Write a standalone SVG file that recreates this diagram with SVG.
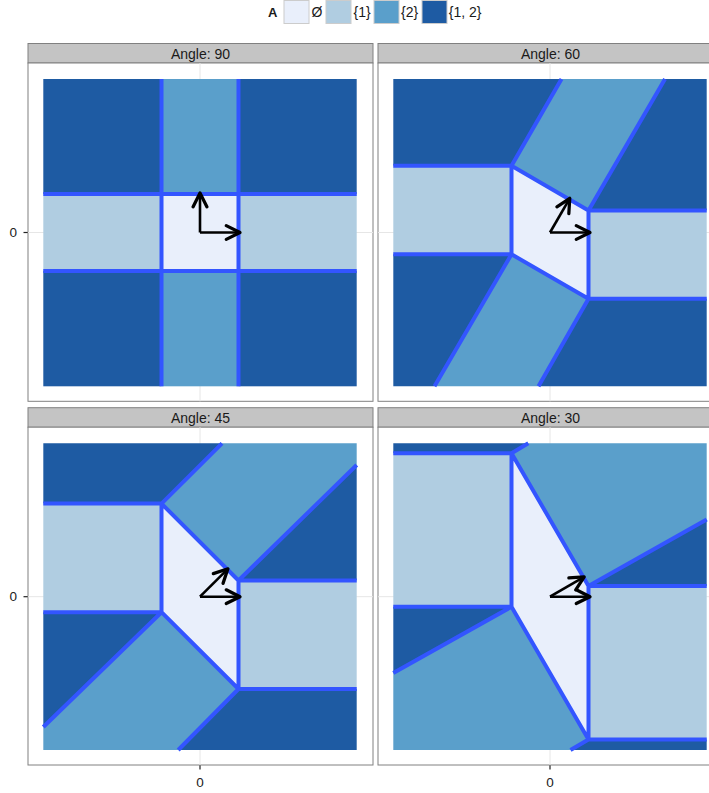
<svg xmlns="http://www.w3.org/2000/svg" width="709" height="793" viewBox="0 0 709 793">
<defs>
<style>
text{font-family:"Liberation Sans",Arial,sans-serif;fill:#1a1a1a}
.strip{fill:#C4C4C4;stroke:#808080;stroke-width:1}
.body{fill:#fff;stroke:#808080;stroke-width:1}
.grid{stroke:#E6E6E6;stroke-width:1;fill:none}
.tick{stroke:#222;stroke-width:1.2}
.e{fill:#E9EFFB}
.s1{fill:#B0CDE1}
.s2{fill:#5A9FCB}
.s12{fill:#1E5BA3}
.bd{fill:none;stroke:#3355FF;stroke-width:4;stroke-linejoin:round}
.vec{fill:none;stroke:#000;stroke-width:2.6;marker-end:url(#ah)}
.st{font-size:14px;text-anchor:middle}
.ax{font-size:13.5px;fill:#222}
.key{stroke:#CCCCCC;stroke-width:1}
.lg{font-size:14px}
</style>
<marker id="ah" markerUnits="userSpaceOnUse" markerWidth="20" markerHeight="20" viewBox="-14 -8 16 16" refX="0" refY="0" orient="auto">
<path d="M-11,-5.5 L0,0 L-11,5.5" fill="none" stroke="#000" stroke-width="2.6" stroke-linecap="round" stroke-linejoin="round"/>
</marker>
</defs>

<g id="legend">
<text x="277.5" y="16.5" style="font-size:13px;font-weight:bold;text-anchor:end">A</text>
<rect class="key e" x="284" y="0.5" width="25" height="23"/>
<text class="lg" x="311.5" y="16.5">Ø</text>
<rect class="key s1" x="326" y="0.5" width="25" height="23"/>
<text class="lg" x="353.5" y="16.5">{1}</text>
<rect class="key s2" x="374" y="0.5" width="25" height="23"/>
<text class="lg" x="401" y="16.5">{2}</text>
<rect class="key s12" x="422" y="0.5" width="25" height="23"/>
<text class="lg" x="448.8" y="16.5">{1, 2}</text>
</g>

<g id="axes">
<line class="tick" x1="23.5" y1="232.5" x2="28" y2="232.5"/>
<line class="tick" x1="23.5" y1="596.7" x2="28" y2="596.7"/>
<line class="tick" x1="200" y1="765" x2="200" y2="769.5"/>
<line class="tick" x1="550" y1="765" x2="550" y2="769.5"/>
<text class="ax" x="17" y="237.2" text-anchor="end">0</text>
<text class="ax" x="17" y="601.4" text-anchor="end">0</text>
<text class="ax" x="200" y="786.8" text-anchor="middle">0</text>
<text class="ax" x="550" y="786.8" text-anchor="middle">0</text>
</g>

<g id="panel-90">
<rect class="strip" x="28" y="43.5" width="345" height="19.5"/>
<text class="st" x="200.5" y="59">Angle: 90</text>
<rect class="body" x="28" y="63" width="345" height="338.3"/>
<path class="grid" d="M200 63V401.3M28 232.5H373"/>
<rect class="s12" x="43.3" y="79" width="118.2" height="115"/>
<rect class="s2" x="161.5" y="79" width="77" height="115"/>
<rect class="s12" x="238.5" y="79" width="118.2" height="115"/>
<rect class="s1" x="43.3" y="194" width="118.2" height="77"/>
<rect class="e" x="161.5" y="194" width="77" height="77"/>
<rect class="s1" x="238.5" y="194" width="118.2" height="77"/>
<rect class="s12" x="43.3" y="271" width="118.2" height="115.3"/>
<rect class="s2" x="161.5" y="271" width="77" height="115.3"/>
<rect class="s12" x="238.5" y="271" width="118.2" height="115.3"/>
<path class="bd" d="M161.5 79V386.3M238.5 79V386.3M43.3 194H356.7M43.3 271H356.7"/>
<path class="vec" d="M200 232.5H240"/>
<path class="vec" d="M200 232.5V193"/>
</g>

<g id="panel-60">
<rect class="strip" x="378" y="43.5" width="345" height="19.5"/>
<text class="st" x="550.5" y="59">Angle: 60</text>
<rect class="body" x="378" y="63" width="345" height="338.3"/>
<path class="grid" d="M550 63V401.3M378 232.5H723"/>
<polygon class="s12" points="393.3,79 561.5,79 511.5,165.8 393.3,165.8"/>
<polygon class="s2" points="561.5,79 665,79 588.5,210.5 511.5,165.8"/>
<polygon class="s12" points="665,79 706.7,79 706.7,210.5 588.5,210.5"/>
<polygon class="s1" points="393.3,165.8 511.5,165.8 511.5,254.3 393.3,254.3"/>
<polygon class="e" points="511.5,165.8 588.5,210.5 588.5,298.8 511.5,254.3"/>
<polygon class="s1" points="588.5,210.5 706.7,210.5 706.7,298.8 588.5,298.8"/>
<polygon class="s12" points="393.3,254.3 511.5,254.3 434.5,386.3 393.3,386.3"/>
<polygon class="s2" points="511.5,254.3 588.5,298.8 538.5,386.3 434.5,386.3"/>
<polygon class="s12" points="588.5,298.8 706.7,298.8 706.7,386.3 538.5,386.3"/>
<path class="bd" d="M393.3 165.8H511.5L588.5 210.5H706.7M393.3 254.3H511.5L588.5 298.8H706.7M511.5 165.8V254.3M588.5 210.5V298.8M511.5 165.8L561.5 79M588.5 210.5L665 79M511.5 254.3L434.5 386.3M588.5 298.8L538.5 386.3"/>
<path class="vec" d="M550 232.5H590"/>
<path class="vec" d="M550 232.5L569.75 198.3"/>
</g>

<g id="panel-45">
<rect class="strip" x="28" y="407.7" width="345" height="19.5"/>
<text class="st" x="200.5" y="423">Angle: 45</text>
<rect class="body" x="28" y="427.2" width="345" height="337.8"/>
<path class="grid" d="M200 427.2V765M28 596.7H373"/>
<polygon class="s12" points="43.3,443.3 222,443.3 161.5,503.6 43.3,503.6"/>
<polygon class="s2" points="222,443.3 356.7,443.3 356.7,465 238.5,580.5 161.5,503.6"/>
<polygon class="s12" points="356.7,465 356.7,580.5 238.5,580.5"/>
<polygon class="s1" points="43.3,503.6 161.5,503.6 161.5,612.2 43.3,612.2"/>
<polygon class="e" points="161.5,503.6 238.5,580.5 238.5,689 161.5,612.2"/>
<polygon class="s1" points="238.5,580.5 356.7,580.5 356.7,689 238.5,689"/>
<polygon class="s12" points="43.3,612.2 161.5,612.2 43.3,727"/>
<polygon class="s2" points="161.5,612.2 238.5,689 178.2,750 43.3,750 43.3,727"/>
<polygon class="s12" points="238.5,689 356.7,689 356.7,750 178.2,750"/>
<path class="bd" d="M43.3 503.6H161.5L238.5 580.5H356.7M43.3 612.2H161.5L238.5 689H356.7M161.5 503.6V612.2M238.5 580.5V689M161.5 503.6L222 443.3M238.5 580.5L356.7 465M161.5 612.2L43.3 727M238.5 689L178.2 750"/>
<path class="vec" d="M200 596.7H240"/>
<path class="vec" d="M200 596.7L227.9 568.8"/>
</g>

<g id="panel-30">
<rect class="strip" x="378" y="407.7" width="345" height="19.5"/>
<text class="st" x="550.5" y="423">Angle: 30</text>
<rect class="body" x="378" y="427.2" width="345" height="337.8"/>
<path class="grid" d="M550 427.2V765M378 596.7H723"/>
<polygon class="s12" points="393.3,443.3 528.3,443.3 511.5,453.2 393.3,453.2"/>
<polygon class="s2" points="528.3,443.3 706.7,443.3 706.7,519.5 588.5,586 511.5,453.2"/>
<polygon class="s12" points="706.7,519.5 706.7,586 588.5,586"/>
<polygon class="s1" points="393.3,453.2 511.5,453.2 511.5,606.8 393.3,606.8"/>
<polygon class="e" points="511.5,453.2 588.5,586 588.5,739.5 511.5,606.8"/>
<polygon class="s1" points="588.5,586 706.7,586 706.7,739.5 588.5,739.5"/>
<polygon class="s12" points="393.3,606.8 511.5,606.8 393.3,673"/>
<polygon class="s2" points="511.5,606.8 588.5,739.5 570.5,750 393.3,750 393.3,673"/>
<polygon class="s12" points="588.5,739.5 706.7,739.5 706.7,750 570.5,750"/>
<path class="bd" d="M393.3 453.2H511.5L588.5 586H706.7M393.3 606.8H511.5L588.5 739.5H706.7M511.5 453.2V606.8M588.5 586V739.5M511.5 453.2L528.3 443.3M588.5 586L706.7 519.5M511.5 606.8L393.3 673M588.5 739.5L570.5 750"/>
<path class="vec" d="M550 596.7H590"/>
<path class="vec" d="M550 596.7L584.2 576.95"/>
</g>
</svg>
